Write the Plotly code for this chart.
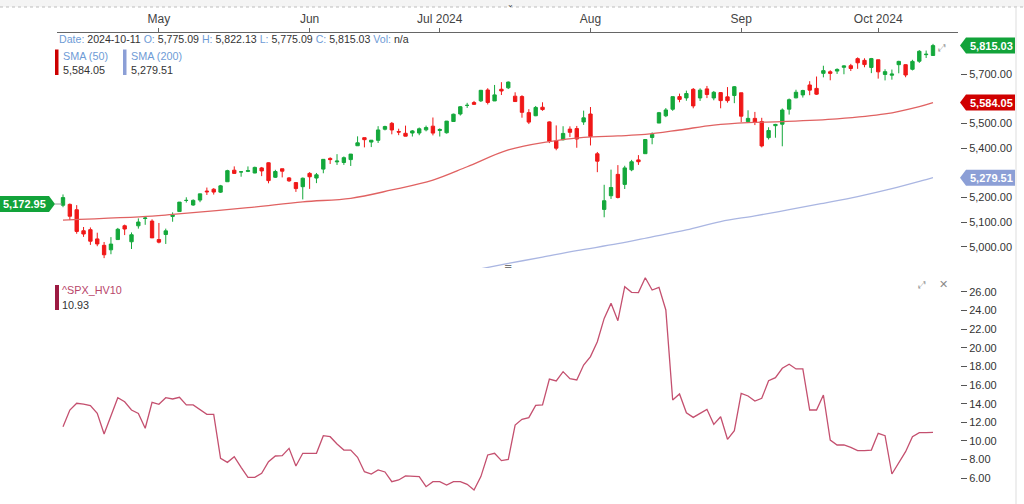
import plotly.graph_objects as go

# ---------------- data ----------------
dates = [
    "2024-04-11", "2024-04-12", "2024-04-15", "2024-04-16", "2024-04-17", "2024-04-18", "2024-04-19",
    "2024-04-22", "2024-04-23", "2024-04-24", "2024-04-25", "2024-04-26", "2024-04-29", "2024-04-30",
    "2024-05-01", "2024-05-02", "2024-05-03", "2024-05-06", "2024-05-07", "2024-05-08", "2024-05-09", "2024-05-10",
    "2024-05-13", "2024-05-14", "2024-05-15", "2024-05-16", "2024-05-17", "2024-05-20", "2024-05-21", "2024-05-22",
    "2024-05-23", "2024-05-24", "2024-05-28", "2024-05-29", "2024-05-30", "2024-05-31",
    "2024-06-03", "2024-06-04", "2024-06-05", "2024-06-06", "2024-06-07", "2024-06-10", "2024-06-11", "2024-06-12",
    "2024-06-13", "2024-06-14", "2024-06-17", "2024-06-18", "2024-06-20", "2024-06-21", "2024-06-24", "2024-06-25",
    "2024-06-26", "2024-06-27", "2024-06-28",
    "2024-07-01", "2024-07-02", "2024-07-03", "2024-07-05", "2024-07-08", "2024-07-09", "2024-07-10", "2024-07-11",
    "2024-07-12", "2024-07-15", "2024-07-16", "2024-07-17", "2024-07-18", "2024-07-19", "2024-07-22", "2024-07-23",
    "2024-07-24", "2024-07-25", "2024-07-26", "2024-07-29", "2024-07-30", "2024-07-31",
    "2024-08-01", "2024-08-02", "2024-08-05", "2024-08-06", "2024-08-07", "2024-08-08", "2024-08-09", "2024-08-12",
    "2024-08-13", "2024-08-14", "2024-08-15", "2024-08-16", "2024-08-19", "2024-08-20", "2024-08-21", "2024-08-22",
    "2024-08-23", "2024-08-26", "2024-08-27", "2024-08-28", "2024-08-29", "2024-08-30",
    "2024-09-03", "2024-09-04", "2024-09-05", "2024-09-06", "2024-09-09", "2024-09-10", "2024-09-11", "2024-09-12",
    "2024-09-13", "2024-09-16", "2024-09-17", "2024-09-18", "2024-09-19", "2024-09-20", "2024-09-23", "2024-09-24",
    "2024-09-25", "2024-09-26", "2024-09-27", "2024-09-30",
    "2024-10-01", "2024-10-02", "2024-10-03", "2024-10-04", "2024-10-07", "2024-10-08", "2024-10-09", "2024-10-10",
    "2024-10-11",
]

opens = [
    5168.00, 5171.51, 5149.67, 5064.59, 5068.97, 5031.52, 5005.44, 4987.33, 5028.85, 5084.86, 5019.88, 5084.65,
    5114.13, 5103.78, 5029.03, 5049.32, 5122.78, 5142.42, 5187.20, 5168.98, 5189.03, 5225.49, 5233.08, 5221.10,
    5263.26, 5310.07, 5303.10, 5305.35, 5298.69, 5319.28, 5340.26, 5281.45, 5315.91, 5278.73, 5259.77, 5243.21,
    5297.15, 5278.24, 5314.48, 5357.80, 5343.81, 5341.22, 5353.00, 5409.13, 5441.93, 5424.08, 5431.11, 5476.15,
    5499.99, 5466.77, 5459.58, 5460.73, 5460.71, 5473.59, 5488.48, 5471.08, 5461.84, 5507.44, 5537.91, 5572.75,
    5584.24, 5591.26, 5635.21, 5590.76, 5638.16, 5644.09, 5610.07, 5608.56, 5543.37, 5530.82, 5565.30, 5505.84,
    5428.70, 5433.67, 5476.55, 5478.73, 5505.59, 5537.84, 5376.63, 5151.14, 5206.42, 5293.13, 5252.57, 5311.62,
    5351.88, 5376.98, 5442.85, 5501.12, 5530.50, 5557.23, 5608.33, 5603.09, 5637.77, 5602.89, 5639.66, 5602.89,
    5624.51, 5607.30, 5612.74, 5623.89, 5506.68, 5520.08, 5507.33, 5442.07, 5490.51, 5496.42, 5557.48, 5603.34,
    5615.21, 5655.51, 5641.68, 5702.63, 5709.05, 5711.90, 5727.07, 5733.65, 5762.22, 5755.36, 5726.52, 5757.73,
    5698.19, 5695.00, 5737.80, 5737.78, 5719.14, 5751.80, 5778.36, 5775.09,
]
highs = [
    5211.78, 5175.03, 5168.43, 5079.84, 5077.96, 5056.66, 5019.02, 5038.84, 5076.12, 5089.48, 5057.75, 5114.62,
    5123.49, 5110.83, 5096.12, 5073.21, 5139.12, 5181.00, 5200.23, 5191.95, 5214.53, 5239.66, 5237.26, 5250.37,
    5311.76, 5325.49, 5305.45, 5325.32, 5324.32, 5323.18, 5341.88, 5311.65, 5315.91, 5282.27, 5260.21, 5280.33,
    5302.11, 5298.80, 5354.16, 5362.35, 5375.08, 5365.79, 5375.95, 5447.25, 5441.93, 5432.39, 5488.50, 5490.38,
    5505.53, 5478.31, 5490.66, 5472.88, 5483.14, 5490.81, 5523.64, 5479.55, 5509.69, 5539.27, 5570.33, 5583.11,
    5590.75, 5635.39, 5642.45, 5655.56, 5666.94, 5669.67, 5625.80, 5614.05, 5557.50, 5570.36, 5585.34, 5508.04,
    5491.59, 5488.32, 5487.74, 5489.46, 5551.51, 5566.16, 5383.89, 5250.89, 5312.34, 5330.64, 5328.03, 5351.88,
    5371.20, 5436.50, 5463.22, 5546.23, 5561.98, 5608.30, 5620.51, 5632.68, 5643.22, 5641.82, 5651.62, 5631.18,
    5627.03, 5646.95, 5651.37, 5623.89, 5552.99, 5546.30, 5522.47, 5484.20, 5497.91, 5560.41, 5600.71, 5636.27,
    5636.05, 5670.81, 5689.75, 5733.57, 5715.14, 5722.94, 5735.32, 5741.03, 5767.37, 5763.78, 5765.14, 5757.73,
    5719.14, 5718.00, 5753.62, 5739.34, 5757.60, 5796.80, 5795.03, 5822.13,
]
lows = [
    5160.00, 5107.94, 5052.47, 5039.83, 5007.25, 5001.89, 4953.56, 4969.40, 5027.96, 5047.02, 4990.58, 5073.14,
    5088.65, 5035.31, 5013.45, 5011.05, 5101.22, 5142.42, 5178.96, 5165.86, 5180.41, 5209.68, 5211.16, 5217.98,
    5263.26, 5296.19, 5283.59, 5302.40, 5297.87, 5286.01, 5256.93, 5278.39, 5280.89, 5262.70, 5222.10, 5191.68,
    5234.32, 5257.63, 5297.64, 5335.36, 5331.33, 5331.52, 5327.25, 5409.13, 5402.51, 5403.75, 5420.40, 5471.32,
    5455.56, 5452.03, 5447.59, 5446.56, 5451.87, 5467.54, 5451.12, 5446.53, 5458.43, 5507.42, 5531.63, 5562.51,
    5574.57, 5586.44, 5576.53, 5590.44, 5614.75, 5639.02, 5587.08, 5522.81, 5497.04, 5529.04, 5550.90, 5419.98,
    5390.95, 5430.70, 5444.44, 5401.02, 5493.75, 5410.42, 5302.03, 5119.26, 5193.56, 5195.54, 5233.85, 5306.04,
    5331.54, 5376.98, 5415.16, 5501.12, 5525.17, 5550.74, 5585.50, 5591.57, 5560.95, 5590.75, 5602.34, 5593.48,
    5560.95, 5583.71, 5581.79, 5504.33, 5503.66, 5493.00, 5402.62, 5434.49, 5441.72, 5406.96, 5535.50, 5601.65,
    5604.53, 5614.05, 5615.08, 5686.42, 5674.49, 5700.34, 5698.99, 5712.06, 5721.01, 5727.34, 5703.53, 5681.28,
    5674.00, 5677.00, 5702.87, 5686.85, 5714.56, 5745.02, 5764.76, 5775.09,
]
closes = [
    5199.06, 5123.41, 5061.82, 5051.41, 5022.21, 5011.12, 4967.23, 5010.60, 5070.55, 5071.63, 5048.42, 5099.96,
    5116.17, 5035.69, 5018.39, 5064.20, 5127.79, 5180.74, 5187.70, 5187.67, 5214.08, 5222.68, 5221.42, 5246.68,
    5308.15, 5297.10, 5303.27, 5308.13, 5321.41, 5307.01, 5267.84, 5304.72, 5306.04, 5266.95, 5235.48, 5277.51,
    5283.40, 5291.34, 5354.03, 5352.96, 5346.99, 5360.79, 5375.32, 5421.03, 5433.74, 5431.60, 5473.23, 5487.03,
    5473.17, 5464.62, 5447.87, 5469.30, 5477.90, 5482.87, 5460.48, 5475.09, 5509.01, 5537.02, 5567.19, 5572.85,
    5576.98, 5633.91, 5584.54, 5615.35, 5631.22, 5667.20, 5588.27, 5544.59, 5505.00, 5564.41, 5555.74, 5427.13,
    5399.22, 5459.10, 5463.54, 5436.44, 5522.30, 5446.68, 5346.56, 5186.33, 5240.03, 5199.50, 5319.31, 5344.16,
    5344.39, 5434.43, 5455.21, 5543.22, 5554.25, 5608.25, 5597.12, 5620.85, 5570.64, 5634.61, 5616.84, 5625.80,
    5592.18, 5591.96, 5648.40, 5528.93, 5520.07, 5503.41, 5408.42, 5471.05, 5495.52, 5554.13, 5595.76, 5626.02,
    5633.09, 5634.58, 5618.26, 5713.64, 5702.55, 5718.57, 5732.93, 5722.26, 5745.37, 5738.17, 5762.48, 5708.75,
    5709.54, 5699.94, 5751.07, 5695.94, 5751.13, 5792.04, 5780.05, 5815.03,
]

sma50_dates = ["2024-04-11", "2024-04-30", "2024-05-03", "2024-05-20", "2024-05-31", "2024-06-11", "2024-06-20",
               "2024-06-28", "2024-07-08", "2024-07-16", "2024-07-24", "2024-07-31", "2024-08-07", "2024-08-13",
               "2024-08-20", "2024-08-27", "2024-09-04", "2024-09-11", "2024-09-23", "2024-10-02", "2024-10-09",
               "2024-10-11"]
sma50_vals = [5108, 5124, 5131, 5158, 5182, 5196, 5230, 5270, 5324, 5392, 5426, 5443, 5449, 5455,
              5473, 5493, 5503, 5507, 5518, 5538, 5568, 5584.05]

sma200_dates = ["2024-07-09", "2024-07-16", "2024-07-23", "2024-07-30", "2024-08-07", "2024-08-14", "2024-08-21",
                "2024-08-28", "2024-09-05", "2024-09-12", "2024-09-19", "2024-09-26", "2024-10-03", "2024-10-10",
                "2024-10-11"]
sma200_vals = [4905, 4932, 4958, 4984, 5012, 5040, 5068, 5102, 5125, 5150, 5176, 5203, 5235, 5272, 5279.51]

hv10 = [
    11.53, 13.32, 14.04, 13.96, 13.79, 12.96, 10.75, 12.6, 14.64, 14.2,
    13.32, 12.96, 11.36, 14.14, 13.93, 14.64, 14.5, 14.68, 13.86, 13.86,
    13.39, 12.86, 12.86, 8.14, 7.71, 8.32, 7.18, 6.1, 6.1, 6.53,
    7.78, 8.39, 8.43, 9.21, 7.32, 8.68, 8.68, 8.68, 10.57, 10.46,
    9.68, 9.03, 9.03, 8.25, 6.71, 6.46, 6.89, 6.68, 5.64, 5.82,
    6.25, 6.25, 6.18, 5.1, 5.64, 5.64, 5.28, 5.64, 5.64, 5.35,
    4.75, 6.18, 8.5, 8.68, 7.89, 8.03, 11.71, 12.32, 12.5, 13.82,
    13.86, 16.64, 16.43, 17.43, 16.68, 16.54, 18.14, 19.04, 20.64, 23.14,
    24.75, 22.89, 26.54, 25.93, 25.9, 27.5, 26.18, 26.47, 24.04, 14.4,
    15.04, 13.03, 12.53, 12.96, 13.39, 11.78, 12.6, 10.18, 11.1, 15.1,
    14.82, 14.28, 14.57, 16.46, 16.79, 17.79, 18.22, 17.72, 17.72, 13.32,
    13.32, 14.93, 10.1, 9.57, 9.57, 9.32, 8.96, 8.96, 9.03, 10.82,
    10.57, 6.46, 7.6, 8.85, 10.46, 10.89, 10.89, 10.93,
]

month_tick_dates = ["2024-05-01", "2024-06-03", "2024-07-01", "2024-08-01", "2024-09-03", "2024-10-01"]
month_tick_labels = ["May", "Jun", "Jul 2024", "Aug", "Sep", "Oct 2024"]
# 5,300 / 5,600 / 5,800 sit under the value boxes in the reference
price_ticks = [5000, 5100, 5200, 5400, 5500, 5700]
hv_ticks = [6, 8, 10, 12, 14, 16, 18, 20, 22, 24, 26]

last_date = "2024-10-11"
last_open, last_high, last_low, last_close = 5775.09, 5822.13, 5775.09, 5815.03
sma50_last = 5584.05
sma200_last = 5279.51
hv10_last = 10.93
left_marker_value = 5172.95

# ---------------- style ----------------
W, H = 1024, 504
FONT = "Liberation Sans, Arial, sans-serif"
GREEN = "#14a83b"
RED = "#f01818"
SMA50_COLOR = "#e06262"
SMA200_COLOR = "#aab6e2"
HV_COLOR = "#c4506f"
LABEL_BLUE = "#6e9bd6"
TXT = "#333333"


def fx(p):
    return p / W


def fy(p):
    return 1 - p / H


fig = go.Figure()

fig.add_trace(go.Candlestick(
    x=dates, open=opens, high=highs, low=lows, close=closes,
    increasing=dict(line=dict(color=GREEN, width=1), fillcolor=GREEN),
    decreasing=dict(line=dict(color=RED, width=1), fillcolor=RED),
    whiskerwidth=0, hoverinfo="skip", showlegend=False, xaxis="x", yaxis="y",
))
fig.add_trace(go.Scatter(
    x=sma50_dates, y=sma50_vals, mode="lines", line=dict(color=SMA50_COLOR, width=1.3, shape="spline"),
    hoverinfo="skip", showlegend=False, xaxis="x", yaxis="y",
))
fig.add_trace(go.Scatter(
    x=sma200_dates, y=sma200_vals, mode="lines", line=dict(color=SMA200_COLOR, width=1.3, shape="spline"),
    hoverinfo="skip", showlegend=False, xaxis="x", yaxis="y",
))
fig.add_trace(go.Scatter(
    x=dates, y=hv10, mode="lines", line=dict(color=HV_COLOR, width=1.3),
    hoverinfo="skip", showlegend=False, xaxis="x2", yaxis="y2",
))

x_dom = [fx(57), fx(958)]
x_range = [-0.876, len(dates) - 1 + (958 - 933) / 6.85]

fig.update_layout(
    width=W, height=H,
    margin=dict(l=0, r=0, t=0, b=0),
    paper_bgcolor="white", plot_bgcolor="white",
    font=dict(family=FONT, size=11, color=TXT),
    showlegend=False,
    xaxis=dict(
        type="category", categoryorder="array", categoryarray=dates,
        domain=x_dom, range=x_range, anchor="y", side="top",
        showline=True, linecolor="#666", linewidth=1,
        ticks="outside", ticklen=4, tickcolor="#666",
        tickmode="array", tickvals=month_tick_dates, ticktext=month_tick_labels,
        tickfont=dict(size=12, color="#444"), showgrid=False, zeroline=False,
        rangeslider=dict(visible=False), fixedrange=True,
    ),
    xaxis2=dict(
        type="category", categoryorder="array", categoryarray=dates,
        domain=x_dom, range=x_range, anchor="y2", matches="x",
        showline=False, showticklabels=False, ticks="", showgrid=False, zeroline=False,
    ),
    yaxis=dict(
        domain=[fy(268), fy(33)], range=[4913.6, 5866.2],
        anchor="free", position=fx(960), side="right",
        ticks="outside", ticklen=6, tickcolor="#555",
        tickmode="array", tickvals=price_ticks, tickformat=",.2f",
        tickfont=dict(size=11, color=TXT), showgrid=False, zeroline=False, showline=False,
    ),
    yaxis2=dict(
        domain=[0, fy(275)], range=[3.245, 27.79],
        anchor="free", position=fx(960), side="right",
        ticks="outside", ticklen=6, tickcolor="#555",
        tickmode="array", tickvals=hv_ticks, tickformat=".2f",
        tickfont=dict(size=11, color=TXT), showgrid=False, zeroline=False, showline=False,
    ),
)

shapes = []
annotations = []

# top header strip
shapes.append(dict(type="rect", xref="paper", yref="paper", x0=0, x1=1, y0=fy(7), y1=1,
                   fillcolor="#f4f4f4", line=dict(width=0), layer="below"))
shapes.append(dict(type="line", xref="paper", yref="paper", x0=0, x1=1, y0=fy(7), y1=fy(7),
                   line=dict(color="#bdbdbd", width=1, dash="dot")))
# right border
shapes.append(dict(type="line", xref="paper", yref="paper", x0=fx(1016), x1=fx(1016), y0=0, y1=fy(7),
                   line=dict(color="#dddddd", width=1)))

# legend colour bars
shapes.append(dict(type="rect", xref="paper", yref="paper", x0=fx(55), x1=fx(58.5), y0=fy(75), y1=fy(49.5),
                   fillcolor="#cc0000", line=dict(width=0)))
shapes.append(dict(type="rect", xref="paper", yref="paper", x0=fx(123), x1=fx(126.5), y0=fy(75), y1=fy(49.5),
                   fillcolor="#8c9fd6", line=dict(width=0)))
shapes.append(dict(type="rect", xref="paper", yref="paper", x0=fx(55), x1=fx(59), y0=fy(310), y1=fy(285),
                   fillcolor="#9c1a42", line=dict(width=0)))


def right_box(value, color, yref="y"):
    shapes.append(dict(
        type="path", xref="paper", yref=yref, xsizemode="pixel", ysizemode="pixel",
        xanchor=fx(960), yanchor=value,
        path="M0,0 L6,8 L55,8 L55,-8 L6,-8 Z",
        fillcolor=color, line=dict(width=0), layer="above",
    ))
    annotations.append(dict(
        xref="paper", yref=yref, x=fx(991), y=value, text=f"<b>{value:,.2f}</b>",
        showarrow=False, xanchor="center", yanchor="middle",
        font=dict(size=11, color="white", family=FONT),
    ))


right_box(last_close, "#12a33a")
right_box(sma50_last, "#d00000")
right_box(sma200_last, "#8c9fd6")

# left marker
shapes.append(dict(
    type="path", xref="paper", yref="y", xsizemode="pixel", ysizemode="pixel",
    xanchor=fx(55), yanchor=left_marker_value,
    path="M0,0 L-6,8 L-56,8 L-56,-8 L-6,-8 Z",
    fillcolor="#12a33a", line=dict(width=0), layer="above",
))
shapes.append(dict(
    type="line", xref="paper", yref="y", x0=fx(55), x1=fx(62), y0=left_marker_value, y1=left_marker_value,
    line=dict(color="#9a9a9a", width=1),
))
annotations.append(dict(
    xref="paper", yref="y", x=fx(24), y=left_marker_value, text=f"<b>{left_marker_value:,.2f}</b>",
    showarrow=False, xanchor="center", yanchor="middle", font=dict(size=11, color="white", family=FONT),
))

# info line
info = (f"<span style='color:{LABEL_BLUE}'>Date:</span> {last_date} "
        f"<span style='color:{LABEL_BLUE}'>O:</span> {last_open:,.2f} "
        f"<span style='color:{LABEL_BLUE}'>H:</span> {last_high:,.2f} "
        f"<span style='color:{LABEL_BLUE}'>L:</span> {last_low:,.2f} "
        f"<span style='color:{LABEL_BLUE}'>C:</span> {last_close:,.2f} "
        f"<span style='color:{LABEL_BLUE}'>Vol:</span> n/a")
annotations.append(dict(xref="paper", yref="paper", x=fx(57), y=fy(39.5), text=info, showarrow=False,
                        xanchor="left", yanchor="middle", font=dict(size=10.6, color=TXT, family=FONT)))


def label(x, y, text, color, size=10.8):
    annotations.append(dict(xref="paper", yref="paper", x=fx(x), y=fy(y), text=text, showarrow=False,
                            xanchor="left", yanchor="middle", font=dict(size=size, color=color, family=FONT)))


label(61, 55.5, "SMA (50)", LABEL_BLUE)
label(61, 70.5, f"{sma50_last:,.2f}", TXT)
label(129, 55.5, "SMA (200)", LABEL_BLUE)
label(129, 70.5, f"{sma200_last:,.2f}", TXT)
label(60, 289.5, "^SPX_HV10", "#b8456a")
label(60, 304.5, f"{hv10_last:.2f}", TXT)


# small icons
def icon(x, y, text, size=11, color="#8a8a8a"):
    annotations.append(dict(xref="paper", yref="paper", x=fx(x), y=fy(y), text=text, showarrow=False,
                            xanchor="center", yanchor="middle",
                            font=dict(size=size, color=color, family="DejaVu Sans")))


icon(942, 47, "⤢", 10, "#9a9a9a")
icon(922, 284, "⤢", 10, "#9a9a9a")
icon(943, 284, "✕", 11, "#8a8a8a")
icon(508, 266, "=", 10, "#777")
icon(510, 5, "⌄", 8, "#444")

fig.update_layout(shapes=shapes, annotations=annotations)

fig.write_html(
    "out.html",
    config={"displayModeBar": False},
    post_script="document.body.style.margin='0';document.body.style.overflow='hidden';",
)
